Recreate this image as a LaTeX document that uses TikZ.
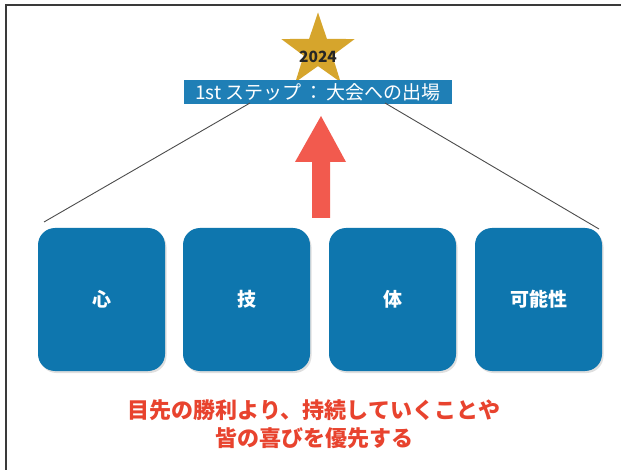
\documentclass[tikz,border=0pt]{standalone}
\usepackage{fontspec}
\newfontfamily\jp{Noto Sans CJK JP}
\usetikzlibrary{shapes.geometric,shadows}
\definecolor{boxblue}{HTML}{0E76AE}
\definecolor{lblblue}{HTML}{1F7FB6}
\definecolor{stargold}{HTML}{D6A52C}
\definecolor{arrowred}{HTML}{F25A4E}
\definecolor{txtred}{HTML}{E8432E}
\definecolor{framegray}{HTML}{3A3A3A}
\tikzset{
  pillar/.style={fill=boxblue, rounded corners=17pt, minimum width=127pt, minimum height=143pt,
    inner sep=0pt, text=white, font=\jp\bfseries\fontsize{19}{22}\selectfont,
    drop shadow={shadow xshift=1.5pt, shadow yshift=-2pt, opacity=0.25}},
  thinline/.style={draw=black!70, line width=0.9pt},
}
\begin{document}
\begin{tikzpicture}[x=1pt,y=-1pt]
\useasboundingbox (0,0) rectangle (621,470);
\fill[white] (0,0) rectangle (621,470);
% frame
\draw[framegray, line width=2pt] (6,470) -- (6,5) -- (621,5);
% star
\node[star, star points=5, star point ratio=2.55, fill=stargold, minimum size=77pt, inner sep=0pt] (star) at (318,51) {};
\node[font=\jp\bfseries\fontsize{15.5}{18}\selectfont, text=black!85] (year) at (318,57) {2024};
% label
\node[fill=lblblue, minimum width=268pt, minimum height=24pt, inner sep=0pt, text=white,
  font=\jp\fontsize{19}{22}\selectfont] (lbl) at (318,92) {1st ステップ\,：\,大会への出場};
\coordinate (la) at (250,103);
\coordinate (ra) at (385,103);
% boxes
\node[pillar] (b1) at (101.5,299.5) {心};
\node[pillar] (b2) at (246.5,299.5) {技};
\node[pillar] (b3) at (392.5,299.5) {体};
\node[pillar] (b4) at (538.5,299.5) {可能性};
\coordinate (lb) at (44,222);
\coordinate (rb) at (599,229);
\draw[thinline] (la) -- (lb);
\draw[thinline] (ra) -- (rb);
% arrow
\coordinate (at) at (321,116);
\fill[arrowred] (312,218) -- (312,162) -- (295,162) -- (at) -- (346,162) -- (330,162) -- (330,218) -- cycle;
% text
\node[align=center, text=txtred, font=\jp\bfseries\fontsize{22}{28}\selectfont] (msg) at (314,424)
  {目先の勝利より、持続していくことや\\皆の喜びを優先する};
\end{tikzpicture}
\end{document}
